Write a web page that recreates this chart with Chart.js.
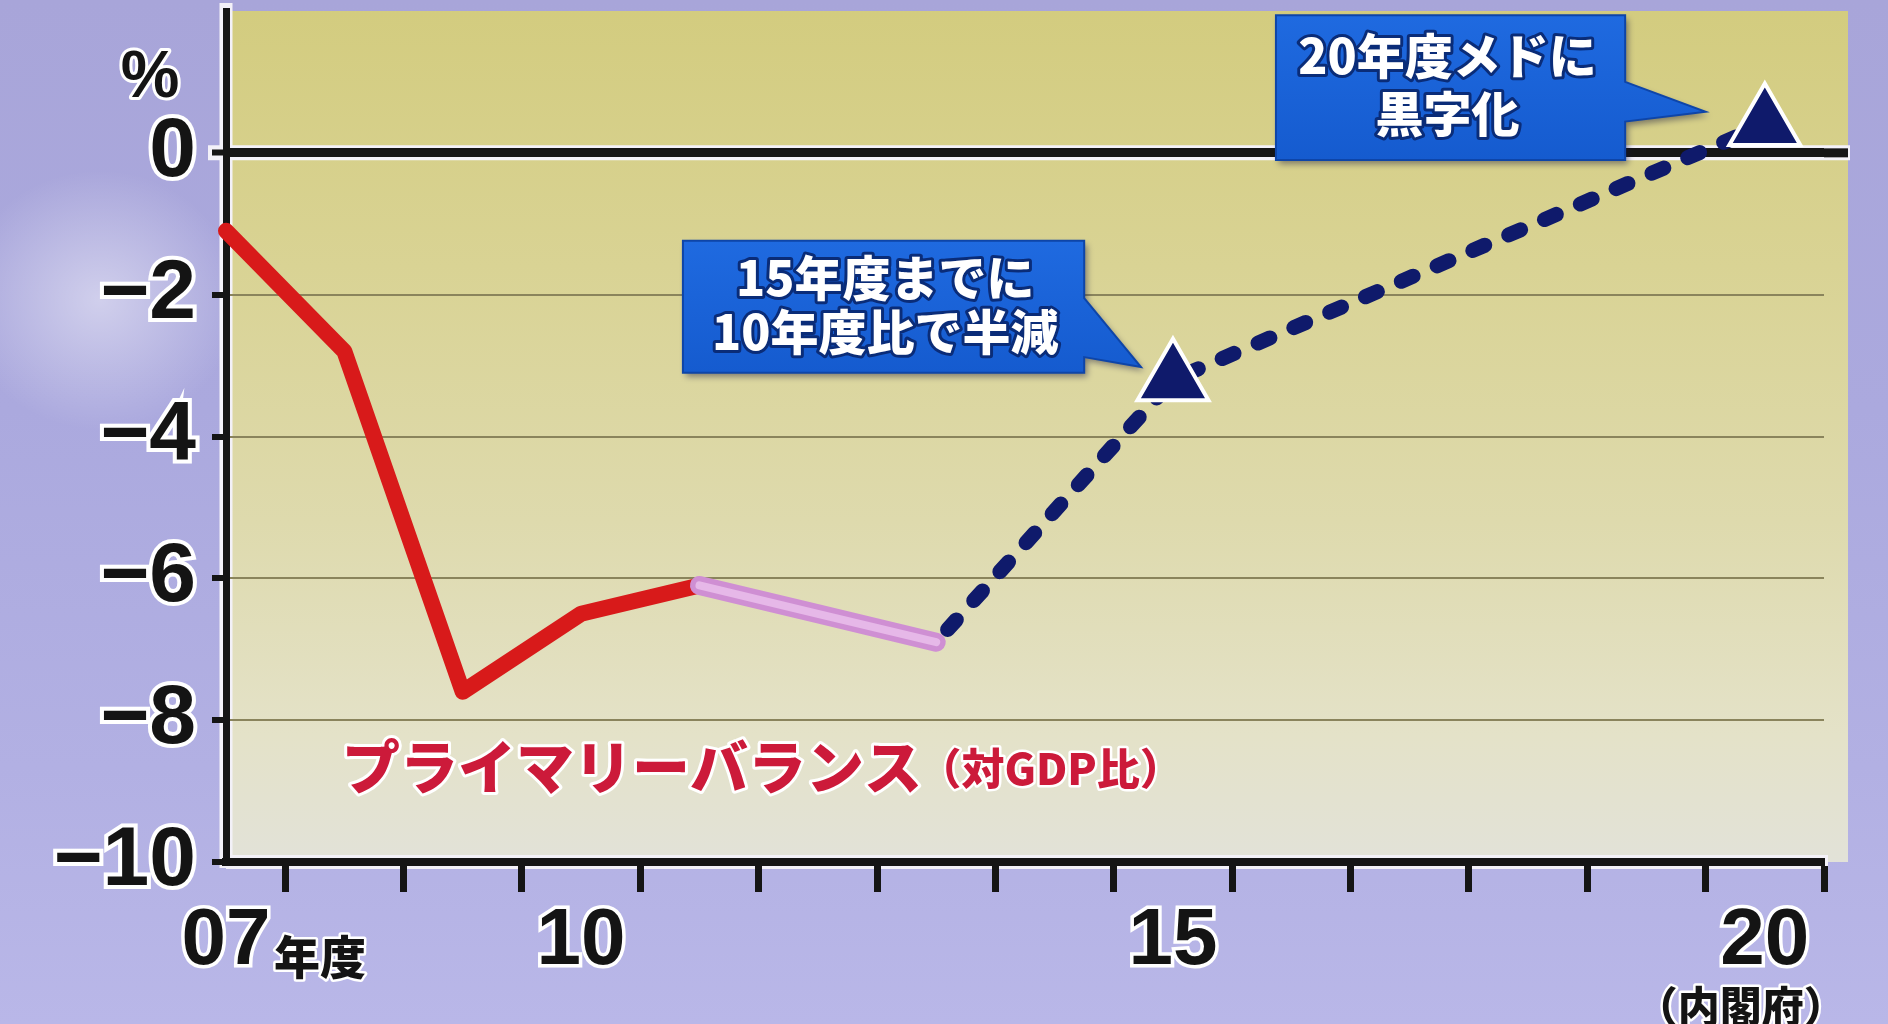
<!DOCTYPE html>
<html><head><meta charset="utf-8">
<script src="https://cdn.jsdelivr.net/npm/chart.js@4.4.1/dist/chart.umd.min.js"></script>
<style>
html,body{margin:0;padding:0;width:1888px;height:1024px;overflow:hidden;}
body{background:
 radial-gradient(ellipse 140px 130px at 100px 300px, rgba(255,255,255,0.45), rgba(255,255,255,0) 100%),
 linear-gradient(180deg,#a8a5d9 0%,#aba9de 40%,#b2b0e3 75%,#b9b7e8 100%);}
canvas{display:block;}
</style></head><body>
<canvas id="c" width="1888" height="1024"></canvas>
<script>
// ---- data (fiscal years, % of GDP) ----
const actualYears = [7, 8, 9, 10, 11];
const actualValues = [-1.1, -2.8, -7.6, -6.5, -6.1];
const estimateYears = [11, 12, 13];
const estimateValues = [-6.1, -6.5, -6.9];
const targetYears = [13, 15, 20];
const targetValues = [-6.9, -3.2, 0.4];
const xLabelYears = [7, 10, 15, 20];
const xLabelTexts = ['07', '10', '15', '20'];
const yTickValues = [-10, -8, -6, -4, -2, 0];
const yTickTexts = ['−10', '−8', '−6', '−4', '−2', '0'];
const seriesTitle = 'プライマリーバランス';
const seriesNote = '（対GDP比）';
const callout1Lines = ['15年度までに', '10年度比で半減'];
const callout2Lines = ['20年度メドに', '黒字化'];
const unitLabel = '%';
const yearSuffix = '年度';
const sourceNote = '（内閣府）';

const toXY = (xs, ys) => xs.map((v, i) => ({ x: v, y: ys[i] }));

const NUM_FONT = 'Liberation Sans, Arial, sans-serif';
const JP_FONT = '"Noto Sans CJK JP", "Noto Sans CJK SC", sans-serif';

function strokeLine(ctx, x1, y1, x2, y2, w, c) {
  ctx.beginPath(); ctx.moveTo(x1, y1); ctx.lineTo(x2, y2);
  ctx.lineWidth = w; ctx.strokeStyle = c; ctx.stroke();
}
function outlinedText(ctx, txt, px, py, font, fill, stroke, sw, align, base) {
  ctx.font = font; ctx.textAlign = align || 'center'; ctx.textBaseline = base || 'middle';
  ctx.lineJoin = 'round'; ctx.lineWidth = sw; ctx.strokeStyle = stroke;
  ctx.strokeText(txt, px, py); ctx.fillStyle = fill; ctx.fillText(txt, px, py);
}
function callout(ctx, xs, ys, g, lines) {
  const L = xs.getPixelForValue(g.x0), R = xs.getPixelForValue(g.x1);
  const T = ys.getPixelForValue(g.y0), B = ys.getPixelForValue(g.y1);
  const t1 = ys.getPixelForValue(g.tailTop), t2 = ys.getPixelForValue(g.tailBot);
  const tx = xs.getPixelForValue(g.tipX), ty = ys.getPixelForValue(g.tipY);
  ctx.save();
  ctx.beginPath();
  ctx.moveTo(L, T); ctx.lineTo(R, T); ctx.lineTo(R, t1); ctx.lineTo(tx, ty);
  ctx.lineTo(R, t2); ctx.lineTo(R, B); ctx.lineTo(L, B); ctx.closePath();
  ctx.shadowColor = 'rgba(20,20,60,0.45)'; ctx.shadowBlur = 6; ctx.shadowOffsetX = 3; ctx.shadowOffsetY = 4;
  const gr = ctx.createLinearGradient(0, T, 0, B);
  gr.addColorStop(0, '#1f6ae0'); gr.addColorStop(1, '#155bcf');
  ctx.fillStyle = gr; ctx.fill();
  ctx.shadowColor = 'transparent';
  ctx.lineWidth = 2; ctx.strokeStyle = '#0e45a8'; ctx.stroke();
  lines.forEach((ln, i) => {
    outlinedText(ctx, ln, xs.getPixelForValue(g.textX), ys.getPixelForValue(g.textY[i]),
      '900 48px ' + JP_FONT, '#ffffff', '#0a2c78', 6);
  });
  ctx.restore();
}

const box1 = { x0: 10.86, x1: 14.25, y0: -1.24, y1: -3.10, tailTop: -2.05, tailBot: -2.88, tipX: 14.73, tipY: -3.02, textX: 12.57, textY: [-1.76, -2.52] };
const box2 = { x0: 15.87, x1: 18.82, y0: 1.94, y1: -0.1, tailTop: 1.0, tailBot: 0.44, tipX: 19.5, tipY: 0.58, textX: 17.32, textY: [1.37, 0.55] };

const decor = {
  id: 'decor',
  beforeDraw(c) {
    const { ctx, chartArea: a, scales: { x, y } } = c;
    ctx.save();
    const g = ctx.createLinearGradient(0, a.top, 0, a.bottom);
    g.addColorStop(0, '#d3cc7f');
    g.addColorStop(0.3, '#d9d394');
    g.addColorStop(0.6, '#dedaad');
    g.addColorStop(0.85, '#e4e2c8');
    g.addColorStop(1, '#e2e2d8');
    ctx.fillStyle = g;
    ctx.fillRect(a.left, a.top, a.right - a.left + 24, a.bottom - a.top);
    const y0 = y.getPixelForValue(0);
    strokeLine(ctx, a.left - 18, y0, a.right + 26, y0, 15, '#f3f1f8');
    strokeLine(ctx, a.left, a.top - 8, a.left, a.bottom + 6, 13, '#f3f1f8');
    strokeLine(ctx, a.left, a.bottom, a.right + 4, a.bottom, 14, '#f3f1f8');
    strokeLine(ctx, a.right, y0, a.right + 24, y0, 9, '#151515');
    ctx.restore();
  },
  afterDraw(c) {
    const { ctx, chartArea: a, scales: { x, y } } = c;
    ctx.save();
    callout(ctx, x, y, box1, callout1Lines);
    callout(ctx, x, y, box2, callout2Lines);
    // series label
    outlinedText(ctx, seriesTitle, x.getPixelForValue(7.98), y.getPixelForValue(-8.66),
      '900 58px ' + JP_FONT, '#cc1a3a', '#ffffff', 6, 'left');
    outlinedText(ctx, seriesNote, x.getPixelForValue(12.85), y.getPixelForValue(-8.68),
      '900 43px ' + JP_FONT, '#cc1a3a', '#ffffff', 5, 'left');
    // unit
    outlinedText(ctx, unitLabel, a.left - 76, y.getPixelForValue(1.05),
      'bold 66px ' + NUM_FONT, '#141414', '#ffffff', 6);
    // year suffix next to "07"
    outlinedText(ctx, yearSuffix, x.getPixelForValue(7) + 48, a.bottom + 112,
      '900 46px ' + JP_FONT, '#141414', '#ffffff', 5, 'left', 'alphabetic');
    // source
    outlinedText(ctx, sourceNote, x.getPixelForValue(20) - 24, 1006,
      '900 42px ' + JP_FONT, '#141414', '#ffffff', 5);
    ctx.restore();
  }
};

new Chart(document.getElementById('c'), {
  type: 'line',
  data: {
    datasets: [
      { label: 'pink-inner', data: toXY(estimateYears, estimateValues), borderColor: '#e6b8e8', borderWidth: 8,
        pointRadius: 0, borderCapStyle: 'round', borderJoinStyle: 'round', order: 0, clip: false },
      { label: 'pink', data: toXY(estimateYears, estimateValues), borderColor: '#cf8fd3', borderWidth: 19,
        pointRadius: 0, borderCapStyle: 'round', borderJoinStyle: 'round', order: 1, clip: false },
      { label: 'target', data: toXY(targetYears, targetValues), borderColor: '#0f1a6b', borderWidth: 15,
        borderDash: [13, 26], borderDashOffset: 22, borderCapStyle: 'round', borderJoinStyle: 'round',
        pointStyle: 'triangle', pointRadius: (ctx) => ctx.dataIndex === 0 ? 0 : 41,
        pointBackgroundColor: '#0f1a6b', pointBorderColor: '#ffffff', pointBorderWidth: 4,
        order: 2, clip: false },
      { label: 'actual', data: toXY(actualYears, actualValues), borderColor: '#d81a1a', borderWidth: 16,
        pointRadius: 0, borderCapStyle: 'round', borderJoinStyle: 'round', order: 3, clip: false }
    ]
  },
  options: {
    responsive: false, animation: false, events: [],
    layout: { autoPadding: false, padding: { left: 0, right: 64, top: 11, bottom: 0 } },
    plugins: { legend: { display: false }, tooltip: { enabled: false } },
    scales: {
      x: {
        type: 'linear', min: 7, max: 20.5,
        afterBuildTicks(s) { const t = []; for (let v = 7; v <= 20.5; v += 0.5) t.push({ value: v }); s.ticks = t; },
        afterFit(s) { s.height = 162; s.paddingLeft = 0; s.paddingRight = 0; },
        ticks: {
          autoSkip: false, maxRotation: 0, padding: 2, color: '#141414',
          font: { family: NUM_FONT, size: 80, weight: 'bold' },
          textStrokeColor: '#ffffff', textStrokeWidth: 7,
          callback(v) { const i = xLabelYears.indexOf(v); return i >= 0 ? xLabelTexts[i] : ''; }
        },
        grid: {
          drawOnChartArea: false, drawTicks: true, tickLength: 30, tickWidth: 7,
          tickColor(ctx) { return ctx.tick && ctx.tick.value % 1 !== 0 ? '#151515' : 'rgba(0,0,0,0)'; }
        },
        border: { display: true, color: '#151515', width: 8 }
      },
      y: {
        min: -10, max: 2,
        afterBuildTicks(s) { s.ticks = yTickValues.map(v => ({ value: v })); },
        afterFit(s) { s.width = 226; s.paddingTop = 0; s.paddingBottom = 0; },
        ticks: {
          padding: 16, color: '#141414',
          font: { family: NUM_FONT, size: 84, weight: 'bold' },
          textStrokeColor: '#ffffff', textStrokeWidth: 8,
          callback(v) { const i = yTickValues.indexOf(v); return i >= 0 ? yTickTexts[i] : ''; }
        },
        grid: {
          color(ctx) { return ctx.tick && ctx.tick.value === 0 ? '#151515' : '#8a845c'; },
          lineWidth(ctx) { const v = ctx.tick ? ctx.tick.value : 1; return v === 0 ? 9 : (v === -10 ? 0 : 2); },
          drawTicks: true, tickLength: 14, tickWidth: 6, tickColor: '#151515'
        },
        border: { display: true, color: '#151515', width: 7 }
      }
    }
  },
  plugins: [decor]
});
</script>
</body></html>
